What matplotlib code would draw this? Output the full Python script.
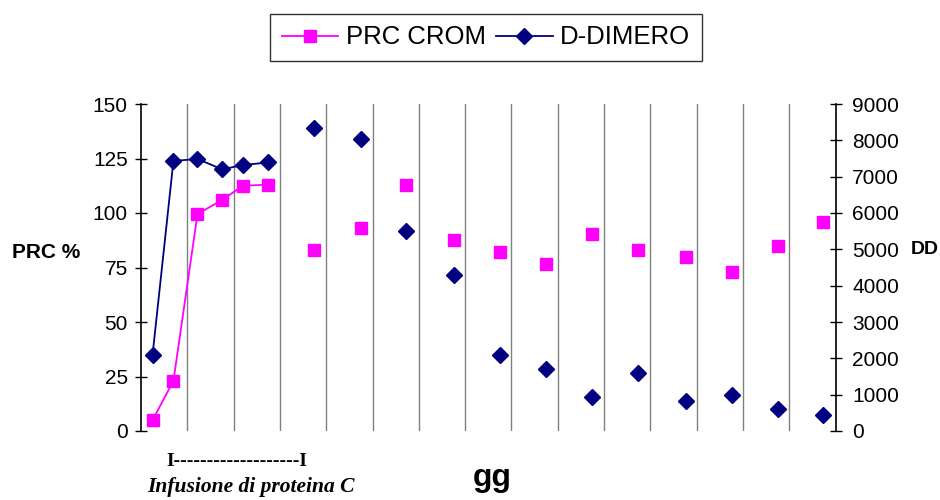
import matplotlib

matplotlib.use("Agg")
import matplotlib.pyplot as plt
from matplotlib.lines import Line2D

# giorni di prelievo (unità = 1 giorno fra le linee verticali)
GIORNI = [0.25, 0.70, 1.22, 1.75, 2.20, 2.74,
          3.74, 4.74, 5.73, 6.76, 7.75, 8.74,
          9.74, 10.73, 11.76, 12.76, 13.75, 14.72]
PRC_CROM = [5, 23, 99.5, 106, 112.5, 113,
            83, 93, 113, 87.5, 82, 76.5,
            90.5, 83, 80, 73, 85, 96]
D_DIMERO = [2100, 7430, 7490, 7200, 7320, 7390,
            8330, 8040, 5500, 4300, 2100, 1700,
            940, 1600, 830, 990, 600, 440]
N_CONN = 6  # punti uniti dalla linea (durante l'infusione)

PRC_TICKS = [0, 25, 50, 75, 100, 125, 150]
DD_TICKS = list(range(0, 9001, 1000))

MAGENTA = "#ff00ff"
NAVY = "#000080"
FONT = "Liberation Sans"

plt.rcParams["font.family"] = [FONT, "DejaVu Sans"]

fig = plt.figure(figsize=(9.4, 5.0), dpi=100)
ax = fig.add_axes([0.15, 0.138, 0.739, 0.654])
ax2 = ax.twinx()

ax.set_xlim(0, 15)
ax.set_ylim(0, 150)
ax2.set_ylim(0, 9000)

# linee verticali dei giorni
for g in range(1, 15):
    ax.axvline(g, color="#808080", lw=1.0, zorder=0)

ax.plot(GIORNI[:N_CONN], PRC_CROM[:N_CONN], color=MAGENTA, lw=1.3,
        marker="s", ms=8.5, mec=MAGENTA, mfc=MAGENTA, zorder=3)
ax.plot(GIORNI[N_CONN:], PRC_CROM[N_CONN:], ls="none",
        marker="s", ms=8.5, mec=MAGENTA, mfc=MAGENTA, zorder=3)
ax2.plot(GIORNI[:N_CONN], D_DIMERO[:N_CONN], color=NAVY, lw=1.3,
         marker="D", ms=8, mec=NAVY, mfc=NAVY, zorder=3)
ax2.plot(GIORNI[N_CONN:], D_DIMERO[N_CONN:], ls="none",
         marker="D", ms=8, mec=NAVY, mfc=NAVY, zorder=3)

for a in (ax, ax2):
    a.spines[["top", "bottom"]].set_visible(False)
    a.set_xticks([])
ax.spines["right"].set_visible(False)
ax2.spines["left"].set_visible(False)
ax.spines["left"].set_linewidth(1.2)
ax2.spines["right"].set_linewidth(1.2)

ax.set_yticks(PRC_TICKS)
ax2.set_yticks(DD_TICKS)
ax.tick_params(axis="y", direction="inout", length=9, width=1.0,
               labelsize=15, pad=5)
ax2.tick_params(axis="y", direction="inout", length=8, width=1.0,
                labelsize=15, pad=8)

fig.text(46 / 940, 1 - 253 / 500, "PRC %", fontsize=15, fontweight="bold",
         ha="center", va="center")
fig.text(925 / 940, 1 - 250 / 500, "DD", fontsize=14, fontweight="bold",
         ha="center", va="center")
fig.text(492 / 940, 1 - 478 / 500, "gg", fontsize=23, fontweight="bold",
         ha="center", va="center")

serif = ["Liberation Serif", "DejaVu Serif"]
fig.text(237 / 940, 1 - 462 / 500, "I" + "-" * 19 + "I", family=serif,
         fontsize=14, fontweight="bold", ha="center", va="center")
fig.text(251 / 940, 1 - 487 / 500, "Infusione di proteina C", family=serif,
         fontsize=15.5, fontweight="bold", style="italic",
         ha="center", va="center")

handles = [
    Line2D([], [], color=MAGENTA, lw=1.3, marker="s", ms=8.5,
           mec=MAGENTA, mfc=MAGENTA),
    Line2D([], [], color=NAVY, lw=1.3, marker="D", ms=8,
           mec=NAVY, mfc=NAVY),
]
leg = fig.legend(handles, ["PRC CROM", "D-DIMERO"], loc="center",
                 bbox_to_anchor=(486 / 940, 1 - 37.5 / 500), ncol=2,
                 fontsize=18.5, frameon=True, fancybox=False,
                 handlelength=2.2, handletextpad=0.3, columnspacing=0.4,
                 borderpad=0.45, borderaxespad=0)
leg.get_frame().set_edgecolor("black")
leg.get_frame().set_linewidth(1.0)

fig.savefig("out.png", dpi=100)
